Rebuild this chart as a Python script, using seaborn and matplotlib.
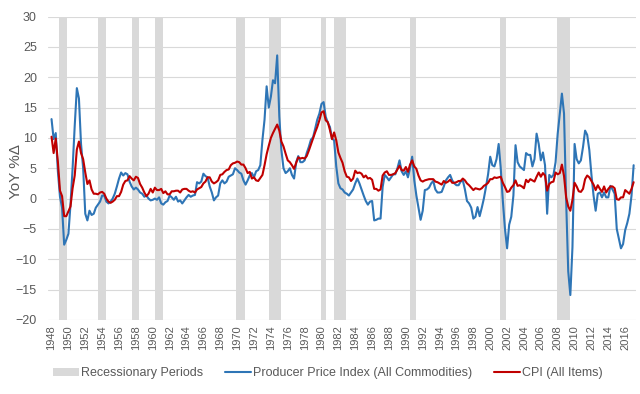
import pandas as pd
import numpy as np
import seaborn as sns
import matplotlib
matplotlib.use('Agg')
import matplotlib.pyplot as plt
from matplotlib.patches import Patch
from matplotlib.lines import Line2D

# Квартальные значения (янв, апр, июл, окт), 1948 - янв 2017
ppi = [
    13.1, 9.8, 10.8, 4.5,
    0.3, -1.5, -7.6, -6.8,
    -5.8, -1.0, 5.0, 12.0,
    18.2, 16.5, 9.0, 5.0,
    -2.5, -3.6, -2.0, -2.7,
    -2.5, -1.5, -1.0, -0.5,
    0.5, 0.5, -0.5, -0.8,
    -0.5, 0.0, 0.8, 2.0,
    3.3, 4.3, 3.8, 4.2,
    4.0, 2.8, 2.0, 1.5,
    1.8, 1.5, 1.0, 0.8,
    0.3, 0.5, 0.0, -0.3,
    -0.2, 0.0, -0.2, 0.2,
    -0.8, -1.0, -0.6, -0.4,
    0.5, 0.2, -0.2, 0.3,
    -0.5, -0.3, -0.8, -0.3,
    0.2, 0.6, 0.3, 0.5,
    0.6, 2.7, 2.5, 2.8,
    4.1, 3.7, 3.5, 2.0,
    1.0, -0.3, 0.2, 0.5,
    2.5, 3.0, 2.5, 2.8,
    3.6, 3.8, 4.0, 5.0,
    4.7, 4.3, 4.1, 3.0,
    2.3, 3.0, 3.8, 4.2,
    3.5, 4.5, 4.7, 5.5,
    9.7, 13.0, 18.5, 15.0,
    16.8, 19.5, 19.0, 23.6,
    13.5, 8.0, 5.0, 4.2,
    4.5, 5.0, 3.9, 3.3,
    6.0, 7.0, 6.0, 6.0,
    6.3, 7.5, 8.5, 9.7,
    10.1, 11.5, 13.0, 14.0,
    15.6, 15.9, 13.5, 12.5,
    11.8, 9.9, 9.6, 5.3,
    2.5, 1.7, 1.5, 1.0,
    0.8, 0.5, 1.0, 1.5,
    2.5, 3.3, 2.5, 1.5,
    0.5, -0.4, -1.0, -0.5,
    -0.4, -3.6, -3.5, -3.3,
    -3.3, 1.9, 3.9, 3.5,
    3.0, 3.5, 4.0, 4.0,
    5.0, 6.3, 4.5, 3.9,
    4.5, 3.5, 5.0, 6.9,
    3.0, 0.5, -1.5, -3.5,
    -2.0, 1.4, 1.5, 1.8,
    2.5, 2.9, 1.5, 1.0,
    1.0, 1.1, 2.0, 3.0,
    3.5, 3.9, 3.0, 2.5,
    2.2, 2.2, 2.8, 3.0,
    1.5, -0.4, -0.8, -1.5,
    -3.3, -3.0, -1.4, -2.9,
    -1.5, 0.0, 1.9, 4.0,
    6.9, 5.5, 5.3, 6.5,
    9.0, 5.0, -0.4, -5.0,
    -8.2, -4.3, -3.0, 0.5,
    8.8, 6.0, 5.3, 5.0,
    4.7, 7.5, 7.2, 7.2,
    5.3, 6.5, 10.7, 9.0,
    6.3, 7.6, 5.5, -2.5,
    3.9, 3.5, 3.9, 6.0,
    10.7, 14.0, 17.3, 14.0,
    -0.4, -12.0, -15.9, -8.0,
    9.0, 6.5, 5.8, 6.3,
    8.5, 11.2, 10.5, 8.0,
    3.9, 0.5, -2.0, 0.8,
    1.0, 0.2, 1.0, 0.2,
    0.2, 2.1, 1.5, 0.8,
    -5.0, -6.6, -8.2, -7.5,
    -5.2, -4.0, -2.5, 0.5,
    5.5,
]

cpi = [
    10.2, 7.5, 9.9, 6.1,
    1.3, 0.4, -2.9, -2.9,
    -2.1, -1.3, 1.7, 3.8,
    8.1, 9.4, 7.5, 6.5,
    4.3, 2.4, 3.0, 1.5,
    0.8, 0.8, 0.7, 1.0,
    1.1, 0.8, 0.0, -0.5,
    -0.7, -0.5, -0.2, 0.4,
    0.4, 1.1, 2.3, 2.9,
    3.0, 3.7, 3.3, 3.0,
    3.6, 3.4, 2.4, 1.8,
    1.0, 0.4, 0.8, 1.6,
    1.0, 1.8, 1.4, 1.4,
    1.6, 0.9, 1.2, 0.7,
    0.7, 1.2, 1.2, 1.3,
    1.3, 1.0, 1.5, 1.6,
    1.6, 1.3, 1.1, 1.2,
    1.0, 1.5, 1.7, 1.9,
    2.5, 2.8, 3.5, 3.5,
    2.8, 2.5, 2.7, 3.0,
    3.9, 4.0, 4.4, 4.7,
    4.8, 5.5, 5.8, 5.9,
    6.1, 6.0, 5.6, 5.6,
    5.0, 4.2, 4.4, 3.3,
    3.5, 3.0, 2.9, 3.4,
    3.9, 5.5, 7.3, 8.7,
    10.0, 10.8, 11.5, 12.2,
    11.2, 9.4, 8.6, 7.4,
    6.3, 6.0, 5.5, 4.9,
    5.9, 6.8, 6.6, 6.7,
    6.6, 7.0, 7.9, 8.9,
    9.9, 10.9, 11.8, 12.9,
    14.2, 14.4, 12.9, 12.6,
    11.3, 9.8, 10.9, 9.6,
    7.6, 6.7, 5.9, 4.5,
    3.6, 3.5, 2.9, 3.3,
    4.6, 4.2, 4.3, 4.1,
    3.5, 3.8, 3.3, 3.4,
    3.1, 1.6, 1.6, 1.3,
    1.5, 3.8, 4.3, 4.5,
    3.9, 3.9, 4.0, 4.2,
    4.8, 5.4, 4.7, 4.6,
    5.2, 4.4, 5.6, 6.3,
    5.3, 4.9, 3.8, 3.0,
    2.8, 3.0, 3.1, 3.2,
    3.2, 3.2, 2.8, 2.7,
    2.5, 2.3, 2.9, 2.6,
    2.8, 3.1, 2.6, 2.6,
    2.7, 2.9, 2.9, 3.3,
    3.0, 2.5, 2.2, 1.8,
    1.4, 1.7, 1.6, 1.5,
    1.7, 2.1, 2.3, 2.6,
    3.2, 3.2, 3.5, 3.4,
    3.5, 3.6, 2.6, 1.9,
    1.1, 1.2, 1.8, 2.2,
    3.0, 2.1, 2.2, 2.0,
    1.7, 3.1, 2.7, 3.2,
    3.0, 2.8, 3.6, 4.3,
    3.6, 4.2, 3.8, 1.3,
    2.4, 2.7, 2.8, 4.3,
    4.0, 4.2, 5.6, 3.7,
    0.2, -1.3, -2.0, -0.2,
    2.6, 2.0, 1.2, 1.1,
    1.6, 3.2, 3.8, 3.5,
    2.9, 2.3, 1.4, 2.2,
    1.6, 1.1, 2.0, 1.0,
    1.6, 2.0, 2.0, 1.7,
    -0.1, -0.2, 0.2, 0.2,
    1.4, 1.1, 0.8, 1.6,
    2.7,
]

# Периоды рецессий (NBER)
recessions = [
    ('1948-11-01', '1949-10-31'),
    ('1953-07-01', '1954-05-31'),
    ('1957-08-01', '1958-04-30'),
    ('1960-04-01', '1961-02-28'),
    ('1969-12-01', '1970-11-30'),
    ('1973-11-01', '1975-03-31'),
    ('1980-01-01', '1980-07-31'),
    ('1981-07-01', '1982-11-30'),
    ('1990-07-01', '1991-03-31'),
    ('2001-03-01', '2001-11-30'),
    ('2007-12-01', '2009-06-30'),
]

tick_years = list(range(1948, 2017, 2))

dates = pd.date_range('1948-01-01', periods=len(ppi), freq='QS')
df = pd.DataFrame({'date': dates, 'PPI': ppi, 'CPI': cpi})

sns.set_theme(style='white')
plt.rcParams['font.family'] = ['Liberation Sans', 'DejaVu Sans']

text_col = '#595959'
blue = '#2E75B6'
red = '#C00000'
grey = '#D9D9D9'

fig = plt.figure(figsize=(6.4, 3.94), dpi=100)
ax = fig.add_axes([0.075, 0.188, 0.919, 0.770])

for start, end in recessions:
    ax.axvspan(pd.Timestamp(start), pd.Timestamp(end), color=grey, lw=0, zorder=0)

sns.lineplot(data=df, x='date', y='PPI', color=blue, lw=1.5, ax=ax, zorder=3)
sns.lineplot(data=df, x='date', y='CPI', color=red, lw=1.5, ax=ax, zorder=4)

ax.set_ylim(-20, 30)
ax.set_yticks(range(-20, 31, 5))
ax.set_xlim(pd.Timestamp('1947-08-01'), pd.Timestamp('2017-04-20'))
ax.set_xticks([pd.Timestamp(f'{y}-01-01') for y in tick_years])
ax.set_xticklabels([str(y) for y in tick_years], rotation=90, fontsize=8, color=text_col)
ax.tick_params(axis='y', labelsize=9, labelcolor=text_col, length=0, pad=8)
ax.tick_params(axis='x', length=0, pad=4)
ax.yaxis.grid(True, color=grey, lw=0.8, zorder=1)
ax.set_axisbelow(True)
for s in ax.spines.values():
    s.set_visible(False)
ax.set_xlabel('')
ax.set_ylabel('YoY %Δ', fontsize=11, color=text_col, va='center')
ax.yaxis.set_label_coords(-0.055, 0.49)

handles = [
    Patch(facecolor=grey, edgecolor='none'),
    Line2D([0], [0], color=blue, lw=1.5),
    Line2D([0], [0], color=red, lw=1.5),
]
labels = ['Recessionary Periods', 'Producer Price Index (All Commodities)', 'CPI (All Items)']
fig.legend(handles, labels, loc='center', bbox_to_anchor=(0.512, 0.053), ncol=3,
           frameon=False, fontsize=9, handlelength=2.1, handleheight=0.6,
           handletextpad=0.15, columnspacing=1.75, labelcolor=text_col)

plt.savefig('out.png', dpi=100)
